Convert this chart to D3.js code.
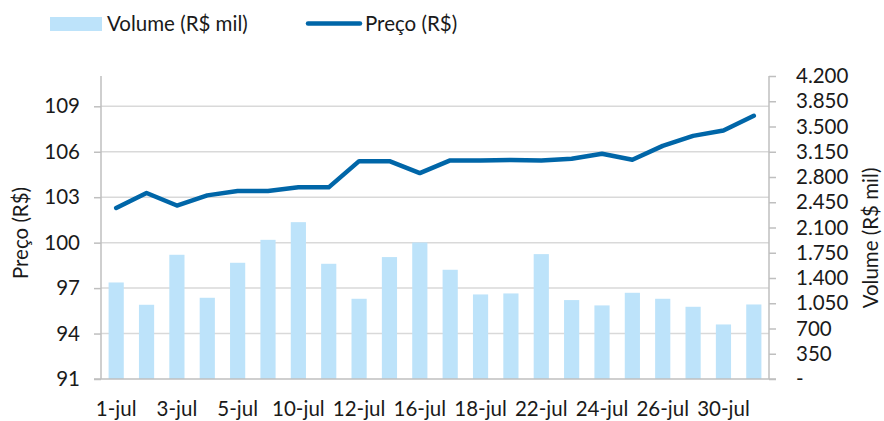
<!DOCTYPE html>
<html>
<head>
<meta charset="utf-8">
<script src="https://cdn.jsdelivr.net/npm/d3@7"></script>
<style>
  body { margin: 0; background: #fff; }
  text { font-family: Lato, "Noto Sans", sans-serif; fill: #1a1a1a; }
</style>
</head>
<body>
<div id="chart"></div>
<script>
var days = ["1-jul", "2-jul", "3-jul", "4-jul", "5-jul", "8-jul", "10-jul", "11-jul",
            "12-jul", "15-jul", "16-jul", "17-jul", "18-jul", "19-jul", "22-jul", "23-jul",
            "24-jul", "25-jul", "26-jul", "29-jul", "30-jul", "31-jul"];

var volume = [1338, 1029, 1722, 1126, 1611, 1929, 2174, 1597, 1112, 1690, 1892,
              1514, 1172, 1186, 1731, 1094, 1020, 1195, 1112, 1001, 756, 1033];

var price = [102.29, 103.28, 102.45, 103.12, 103.41, 103.41, 103.65, 103.65, 105.38, 105.38, 104.59,
             105.43, 105.43, 105.45, 105.43, 105.54, 105.87, 105.47, 106.39, 107.05, 107.4, 108.37];

var priceTicks = [91, 94, 97, 100, 103, 106, 109];
var volumeTicks = [0, 350, 700, 1050, 1400, 1750, 2100, 2450, 2800, 3150, 3500, 3850, 4200];

var W = 884, H = 421;
var fontSize = "20.5px";
var margin = {top: 76, right: 115, bottom: 42, left: 101};
var width = W - margin.left - margin.right,
    height = H - margin.top - margin.bottom;

var svg = d3.select("#chart").append("svg")
    .attr("width", W).attr("height", H);

var g = svg.append("g").attr("transform", "translate(" + margin.left + "," + margin.top + ")");

var x = d3.scaleBand().domain(days).range([0, width]).paddingInner(0.5).paddingOuter(0.25);
var yL = d3.scaleLinear().domain([91, 111]).range([height, 0]);
var yR = d3.scaleLinear().domain([0, 4200]).range([height, 0]);

// gridlines
g.selectAll(".grid").data(priceTicks.slice(1)).enter().append("line")
    .attr("x1", 0).attr("x2", width)
    .attr("y1", function(d) { return yL(d); }).attr("y2", function(d) { return yL(d); })
    .attr("stroke", "#d9d9d9").attr("stroke-width", 1.5);

// bars
g.selectAll(".bar").data(volume).enter().append("rect")
    .attr("x", function(d, i) { return x(days[i]); })
    .attr("y", function(d) { return yR(d); })
    .attr("width", x.bandwidth())
    .attr("height", function(d) { return height - yR(d); })
    .attr("fill", "#bde3fa");

// axes
var fmt = function(d) { return d === 0 ? "-" : d3.format(",")(d).replace(/,/g, "."); };

var axL = g.append("g").call(d3.axisLeft(yL).tickValues(priceTicks).tickSize(7).tickPadding(14));
var axR = g.append("g").attr("transform", "translate(" + width + ",0)")
    .call(d3.axisRight(yR).tickValues(volumeTicks).tickSize(7).tickPadding(20).tickFormat(fmt));
var axB = g.append("g").attr("transform", "translate(0," + height + ")")
    .call(d3.axisBottom(x).tickValues(days.filter(function(d, i) { return i % 2 === 0; }))
      .tickSize(0).tickPadding(22));

[axL, axR, axB].forEach(function(a) {
  a.select(".domain").attr("stroke", "#bfbfbf").attr("stroke-width", 1.5);
  a.selectAll(".tick line").attr("stroke", "#bfbfbf").attr("stroke-width", 1.5);
  a.selectAll("text").style("font-size", fontSize).style("font-family", null).attr("fill", "#1a1a1a");
});
axL.select(".domain").attr("d", "M0," + height + "V0");
axR.select(".domain").attr("d", "M0," + height + "V0");
axB.select(".domain").attr("d", "M-7,0H" + (width + 7));
axR.selectAll(".tick text").attr("text-anchor", "start");
svg.selectAll(".tick").attr("font-family", null);
g.selectAll("g").attr("font-family", null).attr("font-size", null);

// line
var line = d3.line()
    .x(function(d, i) { return x(days[i]) + x.bandwidth() / 2; })
    .y(function(d) { return yL(d); });

g.append("path").datum(price)
    .attr("d", line)
    .attr("fill", "none")
    .attr("stroke", "#0066a8")
    .attr("stroke-width", 4.5)
    .attr("stroke-linejoin", "round")
    .attr("stroke-linecap", "round");

// axis titles
svg.append("text")
    .attr("transform", "translate(28,233) rotate(-90)")
    .attr("text-anchor", "middle")
    .style("font-size", fontSize)
    .text("Preço (R$)");

svg.append("text")
    .attr("transform", "translate(878,238) rotate(-90)")
    .attr("text-anchor", "middle")
    .style("font-size", fontSize)
    .text("Volume (R$ mil)");

// legend
var leg = svg.append("g");
leg.append("rect").attr("x", 50).attr("y", 17).attr("width", 52).attr("height", 14).attr("fill", "#bde3fa");
leg.append("text").attr("x", 107).attr("y", 31).style("font-size", fontSize).text("Volume (R$ mil)");
leg.append("line").attr("x1", 308).attr("x2", 360).attr("y1", 23.5).attr("y2", 23.5)
    .attr("stroke", "#0066a8").attr("stroke-width", 4.5).attr("stroke-linecap", "round");
leg.append("text").attr("x", 365).attr("y", 31).style("font-size", fontSize).text("Preço (R$)");
</script>
</body>
</html>
